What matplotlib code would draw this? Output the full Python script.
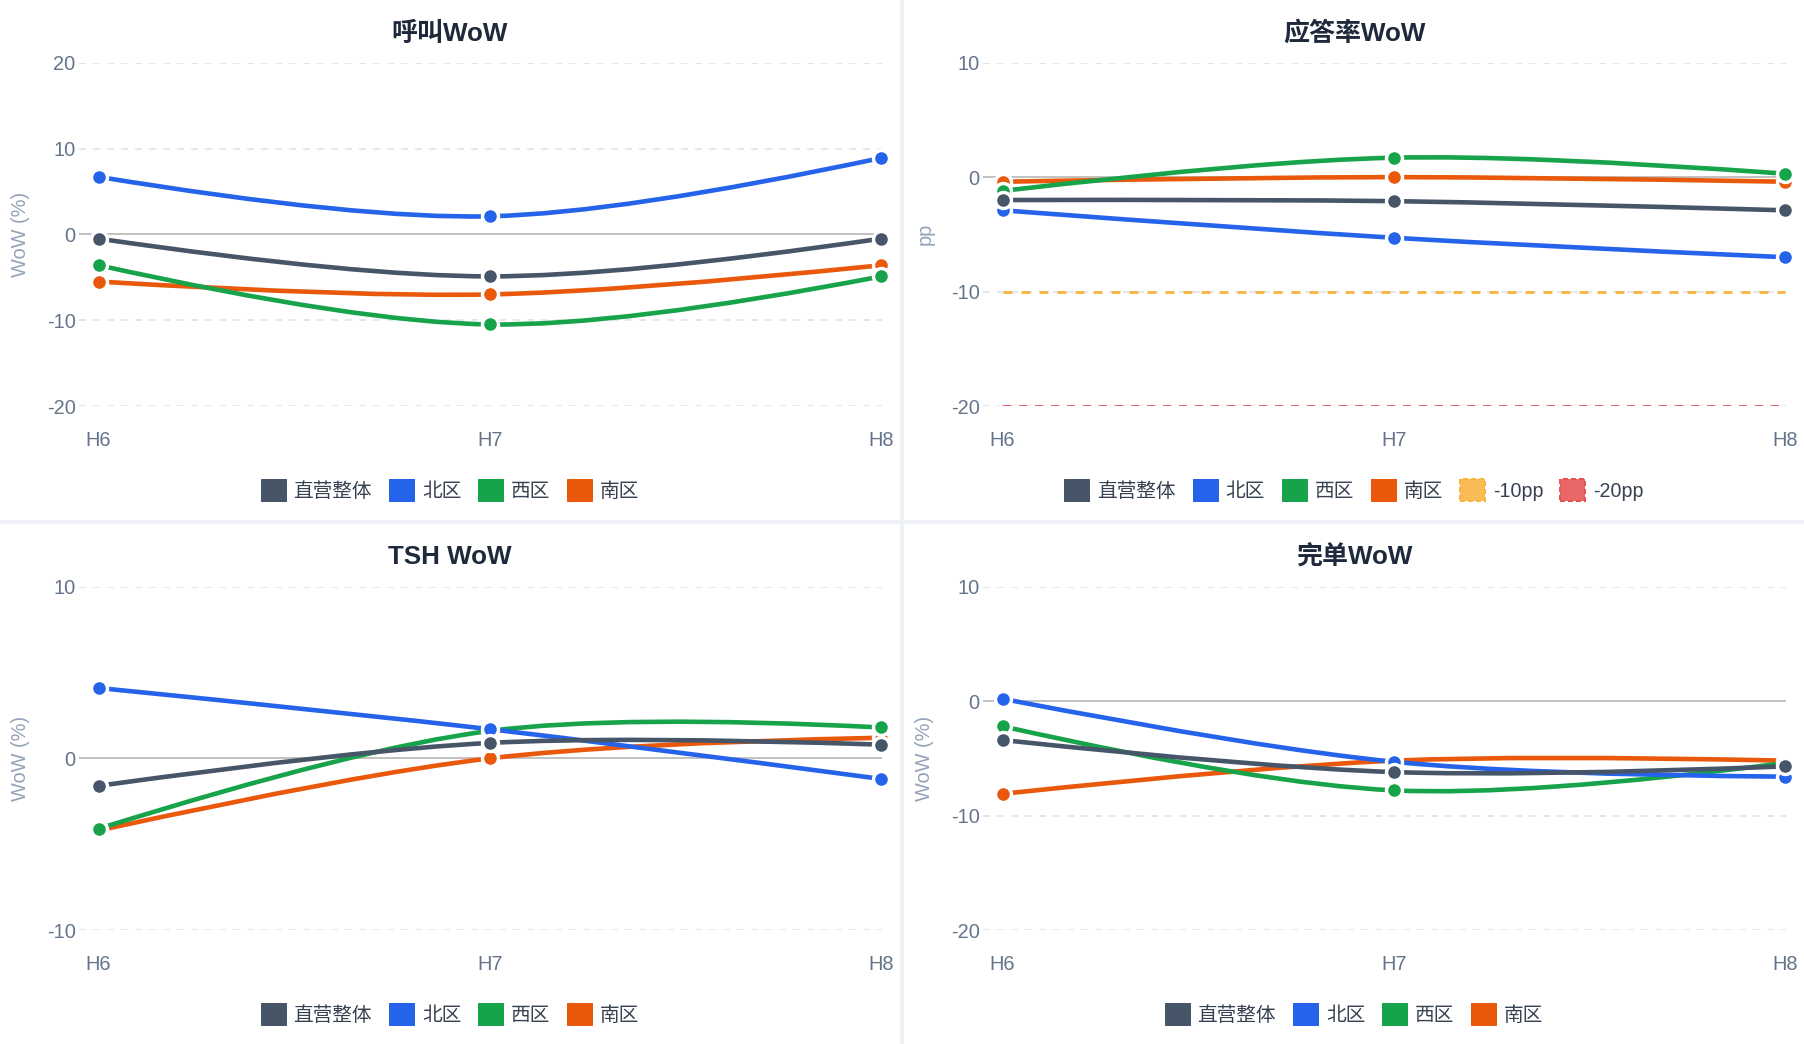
import numpy as np
import matplotlib
matplotlib.use("Agg")
import matplotlib.pyplot as plt
from matplotlib.path import Path
from matplotlib.patches import PathPatch, Rectangle, Patch

plt.rcParams['lines.scale_dashes'] = False

# ---------------- data ----------------
periods = ["H6", "H7", "H8"]
series_names = ["直营整体", "北区", "西区", "南区"]

calls_wow = {            # 呼叫WoW (%)
    "直营整体": [-0.5, -4.9, -0.5],
    "北区": [6.7, 2.1, 8.9],
    "西区": [-3.6, -10.5, -4.9],
    "南区": [-5.5, -7.0, -3.6],
}
answer_rate_wow = {      # 应答率WoW (pp)
    "直营整体": [-2.0, -2.1, -2.9],
    "北区": [-2.9, -5.3, -7.0],
    "西区": [-1.2, 1.7, 0.3],
    "南区": [-0.4, 0.0, -0.4],
}
tsh_wow = {              # TSH WoW (%)
    "直营整体": [-1.6, 0.9, 0.8],
    "北区": [4.1, 1.7, -1.2],
    "西区": [-4.1, 1.6, 1.8],
    "南区": [-4.2, 0.0, 1.2],
}
orders_wow = {           # 完单WoW (%)
    "直营整体": [-3.4, -6.2, -5.7],
    "北区": [0.2, -5.3, -6.6],
    "西区": [-2.2, -7.8, -5.4],
    "南区": [-8.1, -5.2, -5.2],
}
thresholds = [("-10pp", -10), ("-20pp", -20)]

panel_titles = ["呼叫WoW", "应答率WoW", "TSH WoW", "完单WoW"]
panel_ylabels = ["WoW (%)", "pp", "WoW (%)", "WoW (%)"]
panel_data = [calls_wow, answer_rate_wow, tsh_wow, orders_wow]
panel_yranges = [(-20, 20), (-20, 10), (-10, 10), (-20, 10)]
panel_yticks = [[-20, -10, 0, 10, 20], [-20, -10, 0, 10], [-10, 0, 10], [-20, -10, 0, 10]]

# ---------------- style ----------------
colors = {"直营整体": "#475569", "北区": "#2563eb", "西区": "#16a34a", "南区": "#ea580c"}
thr_colors = {"-10pp": "#f6b440", "-20pp": "#e55353"}
thr_face = {"-10pp": "#f9bc55", "-20pp": "#e86868"}

W, H = 1804, 1044
DPI = 100
PX = 72.0 / DPI   # px -> pt

fig = plt.figure(figsize=(W / DPI, H / DPI), dpi=DPI, facecolor="#eef2f7")

panels = [(0, 0), (904, 0), (0, 524), (904, 524)]
PW, PH = 900, 520

lat_cjk = ["Liberation Sans", "Noto Sans CJK SC"]


def fx(x):
    return x / W


def fy(y):
    return 1 - y / H


def make_tangent(p0, p1, p2, s=1.0):
    d1 = p0 - p1
    d2 = p2 - p1
    d1a = (d1 @ d1) ** 0.25
    d2a = (d2 @ d2) ** 0.25
    num = (d2a * d2a * d1 - d1a * d1a * d2) * s
    den1 = 3 * d2a * (d1a + d2a)
    den2 = 3 * d1a * (d1a + d2a)
    a = p1 + (num / den1 if den1 else 0)
    b = p1 - (num / den2 if den2 else 0)
    return a, b


def spline_path(ax, xs, ys):
    pts = ax.transData.transform(np.column_stack([xs, ys]).astype(float))
    n = len(pts)
    tang = [make_tangent(pts[i - 1], pts[i], pts[i + 1]) for i in range(1, n - 1)]
    verts = [pts[0], tang[0][0], pts[1]]
    codes = [Path.MOVETO, Path.CURVE3, Path.CURVE3]
    for i in range(2, n - 1):
        verts += [tang[i - 2][1], tang[i - 1][0], pts[i]]
        codes += [Path.CURVE4] * 3
    verts += [tang[n - 3][1], pts[n - 1]]
    codes += [Path.CURVE3, Path.CURVE3]
    dverts = ax.transData.inverted().transform(np.array(verts))
    return Path(dverts, codes)


for k, (px0, py0) in enumerate(panels):
    # white card
    fig.patches.append(Rectangle((fx(px0), fy(py0 + PH)), PW / W, PH / H,
                                 transform=fig.transFigure, facecolor="white",
                                 edgecolor="none", zorder=-10))
    left, right = px0 + 79, px0 + 882
    top, bottom = py0 + 62.7, py0 + 406
    ax = fig.add_axes([fx(left), fy(bottom), (right - left) / W, (bottom - top) / H])
    ax.set_facecolor("none")
    for sp in ax.spines.values():
        sp.set_visible(False)

    xpos = np.arange(len(periods))
    ax.set_xlim(-0.05, len(periods) - 1 + 0.002)
    ax.set_ylim(*panel_yranges[k])
    ax.set_xticks(xpos)
    ax.set_xticklabels(periods)
    ax.set_yticks(panel_yticks[k])
    ax.set_yticklabels([str(t) for t in panel_yticks[k]])
    ax.tick_params(axis="both", length=0, labelsize=20 * PX, labelcolor="#64748b")
    ax.tick_params(axis="x", pad=18)
    ax.tick_params(axis="y", pad=2.5)
    for lab in ax.get_xticklabels() + ax.get_yticklabels():
        lab.set_family(lat_cjk)

    # grid lines
    for t in panel_yticks[k]:
        if t == 0:
            ax.axhline(0, color="#c2c2c2", lw=2 * PX, zorder=1)
        else:
            ax.axhline(t, color="#dde3ec", lw=1.6 * PX,
                       linestyle=(0, (7 * PX, 7 * PX)), zorder=0.5)
    if 0 not in panel_yticks[k]:
        ax.axhline(0, color="#c2c2c2", lw=2 * PX, zorder=1)

    fig.text(fx(px0 + 21), fy(py0 + 234), panel_ylabels[k], rotation=90,
             ha="center", va="center", fontsize=20 * PX, color="#94a3b8",
             family=lat_cjk)

    handles = []
    data = panel_data[k]

    # threshold lines (answer rate panel)
    if k == 1:
        for name, val in thresholds:
            yv = [val] * len(periods)
            if name == "-10pp":
                ax.plot(xpos, yv, color=thr_colors[name], lw=2.8 * PX,
                        linestyle=(0, (9 * PX, 9 * PX)), zorder=2)
            else:
                ax.plot(xpos, yv, color=thr_colors[name], lw=1.8 * PX,
                        linestyle=(0, (8 * PX, 8 * PX)), zorder=2)

    # series drawn in reverse order (last legend item at bottom)
    for i, name in enumerate(reversed(series_names)):
        vals = data[name]
        z = 3 + 2 * i
        path = spline_path(ax, xpos, vals)
        ax.add_patch(PathPatch(path, fill=False, edgecolor=colors[name],
                               lw=4.6 * PX, zorder=z, capstyle="butt",
                               joinstyle="round", clip_on=False))
        ax.plot(xpos, vals, linestyle="none", marker="o", ms=16 * PX,
                mfc=colors[name], mec="white", mew=3.4 * PX, zorder=z + 1,
                clip_on=False)

    for name in series_names:
        handles.append(Patch(facecolor=colors[name], edgecolor=colors[name],
                             lw=1 * PX, label=name))
    if k == 1:
        for name, _ in thresholds:
            handles.append(Patch(facecolor=thr_face[name], edgecolor=thr_colors[name],
                                 lw=2 * PX, linestyle=(0, (5 * PX, 3 * PX)), label=name))

    leg = fig.legend(handles=handles, loc="center", ncol=len(handles),
                     bbox_to_anchor=(fx(px0 + 450), fy(py0 + 490)),
                     frameon=False, handlelength=1.27,
                     handleheight=1.27, handletextpad=0.4, columnspacing=0.86,
                     borderpad=0, borderaxespad=0,
                     prop={"family": lat_cjk, "size": 19.7 * PX})
    for t in leg.get_texts():
        t.set_color("#374151")

    fig.text(fx(px0 + 450), fy(py0 + 33.5), panel_titles[k], ha="center", va="center",
             fontsize=26 * PX, fontweight="bold", color="#1e293b", family=lat_cjk)

fig.savefig("out.png", dpi=DPI, facecolor=fig.get_facecolor())
